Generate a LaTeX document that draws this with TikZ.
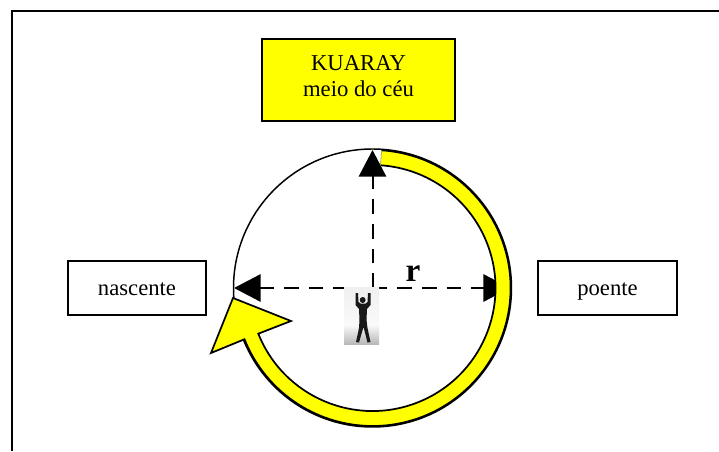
\documentclass[tikz,border=0pt]{standalone}
\usepackage{fontspec}
\setmainfont{Liberation Serif}
\usetikzlibrary{arrows.meta}
\definecolor{amarelo}{RGB}{255,255,0}
\tikzset{
  caixa/.style={draw,line width=1.5pt,minimum height=41pt,font=\fontsize{17}{19.5}\selectfont,align=center},
  lado/.style={caixa,text height=11pt,text depth=0pt},
  seta/.style={line width=1.5pt,dash pattern=on 11pt off 7.5pt,-{Triangle[length=20pt,width=20.5pt]}}
}
\begin{document}
\begin{tikzpicture}[x=.75pt,y=.75pt]
  \useasboundingbox (0,0) rectangle (719,451);

  \coordinate (fimA) at (12,0);
  \coordinate (fimB) at (12,440);
  \coordinate (fimC) at (719,440);
  \draw [line width=1.5pt] (fimA) -- (fimB) -- (fimC);

  \node [caixa,fill=amarelo,minimum width=145pt,minimum height=62pt,text depth=6pt] (kuaray) at (358.5,371) {KUARAY\\meio do céu};
  \node [lado,minimum width=103pt] (nascente) at (137,163) {nascente};
  \node [lado,minimum width=104pt] (poente) at (607.5,163) {poente};

  \coordinate (centro) at (372.5,163);
  \coordinate (topo) at (372.5,301);
  \coordinate (oeste) at (234,163);
  \coordinate (leste) at (510,163);

  \draw [line width=1.1pt] (centro) circle [radius=139];

  \draw [seta] (centro) -- (topo);
  \draw [seta] (centro) -- (oeste);
  \draw [seta] (centro) -- (leste);

  % faixa amarela do sol
  \filldraw [fill=amarelo,line width=1.3pt] (381.5,300.7) arc [start angle=86.3,end angle=-158.2,radius=138]
    -- (211,98) -- (233,153) -- (291,130) -- (258.3,117.3)
    arc [start angle=-158.2,end angle=86.3,radius=123];
  \draw [gray,thin] (381.5,300.7) -- (380.5,285.7);

  % homem
  \shade [top color=black!6,bottom color=black!2] (344,126) rectangle (379,164);
  \shade [top color=black!2,bottom color=black!28] (344,107) rectangle (379,126);
  \fill [black!90] (362.7,151) circle [radius=3];
  \fill [black!90] (355.5,158) -- (358,158) -- (358.5,149) -- (360.5,147.5) -- (365.5,147.5) -- (367.5,149) -- (368,158)
    -- (370.5,158) -- (370.5,146) -- (367,142) -- (366.5,131) -- (367.5,123) -- (370.5,109) -- (367.5,108.5)
    -- (363.5,124) -- (359,108.5) -- (356,109) -- (359,123) -- (359.5,131) -- (359,142) -- (355.5,146) -- cycle;

  \node [font=\fontsize{25}{28}\selectfont\bfseries,anchor=base] (raio) at (413,170) {r};
\end{tikzpicture}
\end{document}
